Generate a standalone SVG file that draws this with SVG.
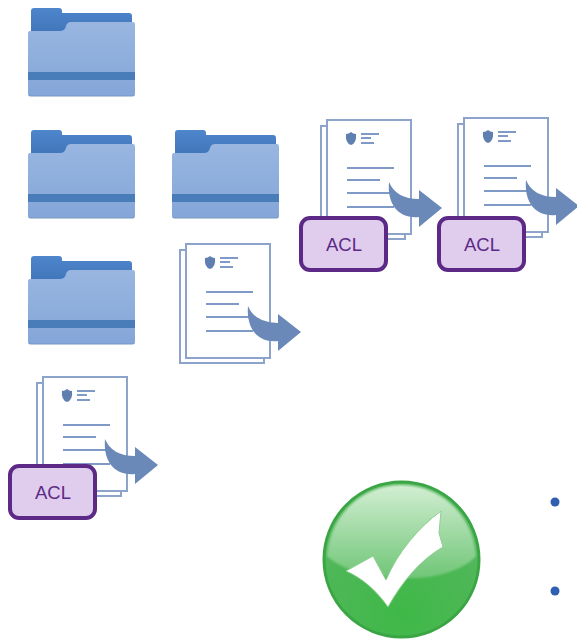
<svg xmlns="http://www.w3.org/2000/svg" xmlns:xlink="http://www.w3.org/1999/xlink" width="577" height="640" viewBox="0 0 577 640">
<style>
.page{fill:#fff;stroke:#8ca4cc;stroke-width:2}
.ln{stroke:#7f9ac6;stroke-width:2;fill:none}
.acl{fill:#e0cdee;stroke:#5c2a86;stroke-width:4}
.t{font-family:"Liberation Sans",Arial,sans-serif;font-size:18.5px;fill:#5c2a86;text-anchor:middle}
.bul{fill:#2f5fb0}
</style>
<defs>
<filter id="soft" x="-5%" y="-5%" width="110%" height="110%"><feGaussianBlur stdDeviation="0.5"/></filter>
<filter id="soft2" x="-5%" y="-5%" width="110%" height="110%"><feGaussianBlur stdDeviation="1.2"/></filter>
<linearGradient id="fg" x1="0" y1="0" x2="0" y2="1"><stop offset="0" stop-color="#98b6e0"/><stop offset="1" stop-color="#84a6d8"/></linearGradient>
<linearGradient id="tg" x1="0" y1="0" x2="0" y2="1"><stop offset="0" stop-color="#4f86cc"/><stop offset="1" stop-color="#3f74b8"/></linearGradient>
<radialGradient id="ball" cx="0.5" cy="0.85" r="0.7"><stop offset="0" stop-color="#3fb847"/><stop offset="0.7" stop-color="#4db756"/><stop offset="1" stop-color="#58b860"/></radialGradient>
<linearGradient id="gloss" x1="0" y1="0" x2="0" y2="1"><stop offset="0" stop-color="#d2eed2"/><stop offset="1" stop-color="#70c677"/></linearGradient>
<symbol id="folder" overflow="visible">
<g filter="url(#soft)">
<path d="M3 11Q3 8 6 8H31Q34 8 34 11V13H101Q104 13 104 16V35H3Z" fill="url(#tg)"/>
<path d="M2 31H32Q37 31 38 26Q39 22 43 22H105Q107 22 107 25V94Q107 96 104 96H3Q0 96 0 94V33Q0 31 2 31Z" fill="url(#fg)"/>
<rect x="0" y="72" width="107" height="8" fill="#4a7db9"/>
<path d="M1 95Q1 96 3 96H104Q106 96 106 95" fill="none" stroke="#7797bf" stroke-width="1.2"/>
</g>
</symbol>
<symbol id="doc" overflow="visible">
<g filter="url(#soft)">
<rect class="page" x="-6" y="6" width="84" height="113"/>
<rect class="page" x="0" y="0" width="84" height="114"/>
<path d="M19 14Q22 14 24 12Q26 14 29 14Q30 23 24 25Q18 23 19 14Z" fill="#5f7fb0"/>
<path class="ln" d="M34 14H52M34 18H44M34 23H47M20 48H67M20 60H53M20 73H67M20 87H67"/>
<path d="M62 62Q69 79 92 79V70L115 88L92 107V97C72 99 60 85 62 62Z" fill="#6a89b8"/>
</g>
</symbol>
</defs>
<g id="folder-1"><use xlink:href="#folder" href="#folder" x="28" y="0"/></g>
<g id="folder-2"><use xlink:href="#folder" href="#folder" x="28" y="122"/></g>
<g id="folder-3"><use xlink:href="#folder" href="#folder" x="172" y="122"/></g>
<g id="folder-4"><use xlink:href="#folder" href="#folder" x="28" y="248"/></g>
<g id="doc-1"><use xlink:href="#doc" href="#doc" x="327" y="120"/><rect class="acl" x="301" y="218" width="85" height="52" rx="9"/><text class="t" x="344" y="251">ACL</text></g>
<g id="doc-2"><use xlink:href="#doc" href="#doc" x="464" y="118"/><rect class="acl" x="439" y="218" width="85" height="52" rx="9"/><text class="t" x="482" y="251">ACL</text></g>
<g id="doc-3"><use xlink:href="#doc" href="#doc" x="186" y="244"/></g>
<g id="doc-4"><use xlink:href="#doc" href="#doc" x="43" y="377"/><rect class="acl" x="10" y="466" width="85" height="52" rx="9"/><text class="t" x="53" y="499">ACL</text></g>
<g id="check">
<circle cx="401.5" cy="559.5" r="77.5" fill="url(#ball)" stroke="#3aa544" stroke-width="3"/>
<path d="M327 556C330 515 362 485 401 485C441 485 473 515 476 556C468 566 440 580 405 578C370 578 342 570 327 556Z" fill="url(#gloss)" filter="url(#soft2)"/>
<path d="M346 571L373 556L386 580C398 552 418 528 441 511L439 533L443 547C420 560 402 582 388 607C376 590 362 578 346 571Z" fill="#fff" stroke="#8fcf93" stroke-width="1"/>
</g>
<g id="connectors"></g>
<circle class="bul" cx="555" cy="502" r="4.5"/>
<circle class="bul" cx="555" cy="591" r="4.5"/>
</svg>
